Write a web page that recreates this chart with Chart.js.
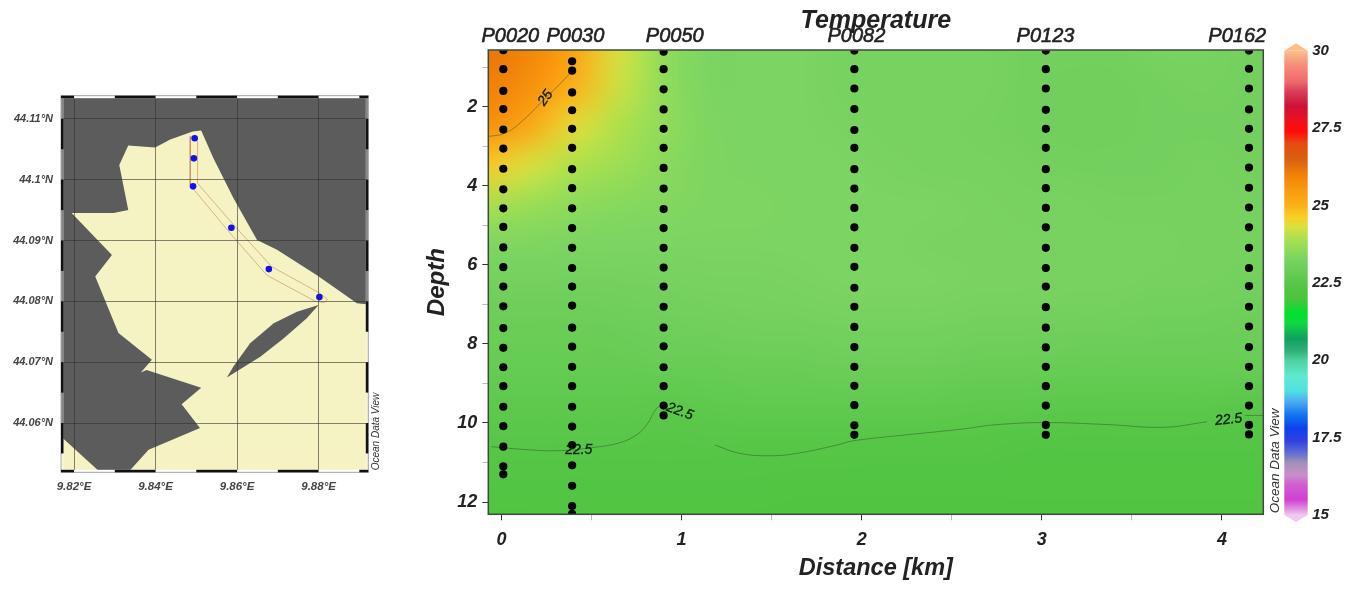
<!DOCTYPE html>
<html>
<head>
<meta charset="utf-8">
<title>Temperature section</title>
<script src="https://cdn.jsdelivr.net/npm/chart.js@4"></script>
<style>
    html, body { margin: 0; background: #fff; overflow: hidden; }
    .panel { position: absolute; top: 0; height: 589px; }
    .panel canvas { filter: blur(0.45px); }
</style>
</head>
<body>
<div class="panel" style="left:0;width:395px"><canvas id="mapChart" width="395" height="589"></canvas></div>
<div class="panel" style="left:400px;width:882px"><canvas id="sectionChart" width="882" height="589"></canvas></div>
<div class="panel" style="left:1270px;width:91px"><canvas id="barChart" width="91" height="589"></canvas></div>
<script>
// ---- map data (lon, lat) ----
const lonTicks = [9.82, 9.84, 9.86, 9.88];
const lonLabels = ['9.82°E', '9.84°E', '9.86°E', '9.88°E'];
const latTicks = [44.06, 44.07, 44.08, 44.09, 44.1, 44.11];
const latLabels = ['44.06°N', '44.07°N', '44.08°N', '44.09°N', '44.1°N', '44.11°N'];
const seaLon = [9.8491, 9.8512, 9.8542, 9.8591, 9.8649, 9.8698, 9.8796, 9.8894, 9.8923, 9.8923, 9.8333, 9.8383, 9.8509, 9.8464, 9.8512, 9.8378, 9.8364, 9.8391, 9.8309, 9.8252, 9.8293, 9.8194, 9.8297, 9.8333, 9.8311, 9.8333, 9.8399, 9.8436];
const seaLat = [44.1079, 44.1081, 44.1035, 44.0970, 44.0901, 44.0885, 44.0843, 44.0797, 44.0795, 44.0519, 44.0519, 44.0556, 44.0592, 44.0631, 44.0658, 44.0687, 44.0683, 44.0704, 44.0748, 44.0841, 44.0876, 44.0945, 44.0945, 44.0950, 44.1024, 44.1056, 44.1053, 44.1066];
const cornerLon = [9.8168, 9.8264, 9.8168];
const cornerLat = [44.0578, 44.0519, 44.0519];
const islandLon = [9.88, 9.8771, 9.8714, 9.8657, 9.8575, 9.8591, 9.8632, 9.8690, 9.8747];
const islandLat = [44.0794, 44.0772, 44.0739, 44.0709, 44.0675, 44.0693, 44.0731, 44.0764, 44.0783];
const trackLon = [9.8485, 9.8485, 9.8583, 9.8673, 9.8792, 9.8814, 9.8822, 9.8804, 9.8685, 9.8591, 9.8503, 9.8503, 9.8485];
const trackLat = [44.1071, 44.0991, 44.0912, 44.0843, 44.0800, 44.0798, 44.0803, 44.0813, 44.0857, 44.0926, 44.0994, 44.1063, 44.1071];
const stationLon = [9.8496, 9.8494, 9.8492, 9.8586, 9.8678, 9.8802];
const stationLat = [44.1068, 44.1035, 44.0989, 44.0921, 44.0853, 44.0807];
const frameLonBlack = [[9.8168, 9.82], [9.83, 9.84], [9.85, 9.86], [9.87, 9.88], [9.89, 9.8922]];
const frameLatBlack = [[44.11, 44.105], [44.10, 44.095], [44.09, 44.085], [44.08, 44.075], [44.07, 44.065], [44.06, 44.055]];

// ---- section data ----
const stationNames = ['P0020', 'P0030', 'P0050', 'P0082', 'P0123', 'P0162'];
const stationKm = [0.01, 0.392, 0.9, 1.959, 3.022, 4.15];
const stationLabelKm = [0.049, 0.41, 0.962, 1.97, 3.02, 4.085];
const depthsP0020 = [0.57, 1.05, 1.6, 2.06, 2.58, 3.06, 3.57, 4.09, 4.57, 5.04, 5.56, 6.06, 6.55, 7.05, 7.6, 8.1, 8.59, 9.07, 9.59, 10.08, 10.6, 11.1, 11.3];
const depthsP0030 = [0.85, 1.09, 1.64, 2.09, 2.56, 3.04, 3.58, 4.06, 4.57, 5.07, 5.57, 6.08, 6.55, 7.03, 7.59, 8.07, 8.58, 9.07, 9.59, 10.09, 10.56, 11.07, 11.59, 12.1, 12.3];
const depthsP0050 = [0.61, 1.05, 1.56, 2.07, 2.56, 3.04, 3.55, 4.07, 4.59, 5.07, 5.57, 6.07, 6.55, 7.06, 7.59, 8.06, 8.59, 9.07, 9.56, 9.81];
const depthsP0082 = [0.58, 1.05, 1.54, 2.06, 2.59, 3.04, 3.58, 4.07, 4.56, 5.05, 5.57, 6.05, 6.58, 7.06, 7.57, 8.08, 8.58, 9.06, 9.55, 10.06, 10.3];
const depthsP0123 = [0.58, 1.05, 1.54, 2.08, 2.56, 3.04, 3.58, 4.06, 4.56, 5.05, 5.57, 6.08, 6.55, 7.07, 7.59, 8.09, 8.58, 9.07, 9.56, 10.05, 10.3];
const depthsP0162 = [0.58, 1.04, 1.54, 2.07, 2.56, 3.04, 3.54, 4.05, 4.55, 5.05, 5.57, 6.08, 6.54, 7.06, 7.56, 8.08, 8.58, 9.07, 9.56, 10.05, 10.29];
const stationDepths = [depthsP0020, depthsP0030, depthsP0050, depthsP0082, depthsP0123, depthsP0162];

// temperature field, evenly spaced in both directions
const gridKm = [-0.1, 0.15, 0.4, 0.65, 0.9, 1.15, 1.4, 1.65, 1.9, 2.15, 2.4, 2.65, 2.9, 3.15, 3.4, 3.65, 3.9, 4.15, 4.4];
const gridDepth = [0.5, 1.5, 2.5, 3.5, 4.5, 5.5, 6.5, 7.5, 8.5, 9.5, 10.5, 11.5, 12.5];
const gridTemp = [
    [26.2, 25.9, 25.3, 24.3, 23.6, 23.3, 23.3, 23.3, 23.2, 23.2, 23.2, 23.2, 23.1, 23.1, 23.1, 23.2, 23.2, 23.1, 23.1],
    [26.0, 25.7, 25.0, 24.2, 23.6, 23.3, 23.3, 23.3, 23.2, 23.2, 23.2, 23.2, 23.1, 23.05, 23.05, 23.1, 23.15, 23.1, 23.1],
    [25.7, 25.2, 24.4, 23.95, 23.6, 23.35, 23.3, 23.3, 23.25, 23.2, 23.2, 23.15, 23.1, 23.05, 23.05, 23.1, 23.1, 23.1, 23.1],
    [24.7, 24.3, 23.95, 23.75, 23.5, 23.35, 23.3, 23.3, 23.3, 23.25, 23.2, 23.2, 23.15, 23.1, 23.1, 23.1, 23.15, 23.1, 23.1],
    [23.9, 23.7, 23.55, 23.45, 23.4, 23.35, 23.35, 23.3, 23.3, 23.3, 23.3, 23.25, 23.2, 23.2, 23.15, 23.15, 23.15, 23.15, 23.1],
    [23.35, 23.35, 23.3, 23.3, 23.3, 23.3, 23.3, 23.3, 23.3, 23.3, 23.25, 23.25, 23.25, 23.2, 23.2, 23.2, 23.15, 23.15, 23.1],
    [23.1, 23.1, 23.1, 23.1, 23.15, 23.2, 23.2, 23.25, 23.3, 23.3, 23.3, 23.25, 23.25, 23.2, 23.2, 23.15, 23.15, 23.1, 23.1],
    [22.9, 22.9, 22.9, 22.95, 23.0, 23.05, 23.1, 23.1, 23.15, 23.15, 23.15, 23.1, 23.1, 23.05, 23.05, 23.0, 23.0, 22.95, 22.95],
    [22.8, 22.8, 22.8, 22.8, 22.85, 22.85, 22.9, 22.9, 22.95, 22.95, 22.95, 22.9, 22.9, 22.85, 22.85, 22.85, 22.85, 22.85, 22.8],
    [22.65, 22.65, 22.65, 22.65, 22.6, 22.65, 22.7, 22.7, 22.7, 22.7, 22.7, 22.65, 22.65, 22.6, 22.6, 22.6, 22.6, 22.55, 22.55],
    [22.5, 22.5, 22.45, 22.5, 22.45, 22.5, 22.45, 22.45, 22.45, 22.4, 22.4, 22.4, 22.35, 22.35, 22.35, 22.35, 22.35, 22.35, 22.35],
    [22.3, 22.3, 22.3, 22.3, 22.3, 22.3, 22.3, 22.25, 22.25, 22.25, 22.25, 22.25, 22.25, 22.25, 22.25, 22.25, 22.25, 22.25, 22.25],
    [22.2, 22.2, 22.2, 22.2, 22.2, 22.2, 22.2, 22.2, 22.2, 22.2, 22.2, 22.2, 22.2, 22.2, 22.2, 22.2, 22.2, 22.2, 22.2]
];

// contour lines, each piece is km + depth
const contour25Km = [-0.08, 0.025, 0.13, 0.244, 0.33, 0.392];
const contour25Depth = [2.76, 2.66, 2.3, 1.78, 1.4, 1.09];
const contourAKm = [-0.056, 0.157, 0.324, 0.509, 0.657, 0.75, 0.806, 0.861, 0.895];
const contourADepth = [10.6, 10.68, 10.7, 10.62, 10.5, 10.3, 10.05, 9.63, 9.55];
const contourBKm = [1.185, 1.324, 1.49, 1.639, 1.861, 1.953, 2.25, 2.565, 2.731, 3.009, 3.361, 3.676, 3.917];
const contourBDepth = [10.56, 10.77, 10.83, 10.77, 10.56, 10.45, 10.3, 10.15, 10.05, 9.99, 10.04, 10.11, 9.97];
const contourCKm = [4.129, 4.23];
const contourCDepth = [9.81, 9.81];
const contourLabels = ['25', '22.5', '22.5', '22.5'];
const contourLabelKm = [0.244, 0.429, 0.99, 4.037];
const contourLabelDepth = [1.78, 10.68, 9.71, 9.92];
const contourLabelAngle = [-55, 0, 20, -6];

// ---- colour bar ----
const tempStops = [15, 15.2, 15.5, 16, 16.3, 16.7, 17, 17.4, 17.8, 18.2, 18.7, 19, 19.5, 20, 20.3, 20.7, 21.2, 21.5, 22, 22.5, 22.8, 23.1, 23.3, 23.6, 24, 24.3, 24.6, 25, 25.5, 26, 26.5, 27, 27.4, 27.7, 28.2, 28.7, 29, 29.5, 30];
const tempColors = ['#f0c8f0', '#e090e0', '#d040d0', '#d060d0', '#c890c8', '#a090b8', '#6070d0', '#3040e0', '#1040f0', '#1070f0', '#50b0f0', '#50e0e0', '#60e8d0', '#50d0a0', '#30b078', '#10a060', '#10d840', '#00e030', '#4cc43e', '#58c648', '#66cc54', '#74d05e', '#7cd462', '#90dc5a', '#b4e04a', '#d8e040', '#f8d028', '#fcb018', '#f89a10', '#f08008', '#d86010', '#e84a10', '#ff0a0a', '#f01018', '#d0103a', '#d8405a', '#ee6a70', '#f78a78', '#f9c08e'];
const barTicks = [15, 17.5, 20, 22.5, 25, 27.5, 30];

const labelFont = 'Liberation Sans';

function hexToRgb(h) {
    return [parseInt(h.substr(1, 2), 16), parseInt(h.substr(3, 2), 16), parseInt(h.substr(5, 2), 16)];
}

// look up a temperature in the colour bar
function tempColor(t) {
    let i = 0;
    while (i < tempStops.length - 2 && t > tempStops[i + 1]) i++;
    const f = Math.max(0, Math.min(1, (t - tempStops[i]) / (tempStops[i + 1] - tempStops[i])));
    const a = hexToRgb(tempColors[i]);
    const b = hexToRgb(tempColors[i + 1]);
    return [0, 1, 2].map(k => Math.round(a[k] + (b[k] - a[k]) * f));
}

function zipPoints(xs, ys) {
    return xs.map((x, i) => ({ x: x, y: ys[i] }));
}

function polygon(xs, ys, color) {
    const pts = zipPoints(xs, ys);
    pts.push(pts[0]);
    return { data: pts, showLine: true, fill: 'shape', backgroundColor: color, borderWidth: 0, pointRadius: 0 };
}

function fixedTicks(values) {
    return scale => { scale.ticks = values.map(v => ({ value: v })); };
}

function watermark(ctx, x, y, size) {
    ctx.save();
    ctx.translate(x, y);
    ctx.rotate(-Math.PI / 2);
    ctx.font = 'italic ' + size + 'px "' + labelFont + '"';
    ctx.fillStyle = '#333';
    ctx.textAlign = 'left';
    ctx.textBaseline = 'middle';
    ctx.fillText('Ocean Data View', 0, 0);
    ctx.restore();
}

// ---- map ----
const mapFrame = {
    id: 'mapFrame',
    afterDraw(chart) {
        const ctx = chart.ctx, a = chart.chartArea, sx = chart.scales.x, sy = chart.scales.y;
        ctx.save();
        ctx.fillStyle = '#fff';
        ctx.fillRect(a.left, a.top, a.width, 2.5);
        ctx.fillRect(a.left, a.bottom - 2.5, a.width, 2.5);
        ctx.fillStyle = 'rgba(255,255,255,0.25)';
        ctx.fillRect(a.left, a.top, 3, a.height);
        ctx.fillRect(a.right - 3, a.top, 3, a.height);
        ctx.strokeStyle = '#aaa';
        ctx.lineWidth = 1;
        ctx.strokeRect(a.left, a.top, a.width, a.height);
        ctx.fillStyle = '#111';
        frameLonBlack.forEach(r => {
            const x0 = sx.getPixelForValue(r[0]), x1 = sx.getPixelForValue(r[1]);
            ctx.fillRect(x0, a.top, x1 - x0, 2.5);
            ctx.fillRect(x0, a.bottom - 2.5, x1 - x0, 2.5);
        });
        frameLatBlack.forEach(r => {
            const y0 = sy.getPixelForValue(r[0]), y1 = sy.getPixelForValue(r[1]);
            ctx.fillRect(a.left, y0, 2.5, y1 - y0);
            ctx.fillRect(a.right - 2.5, y0, 2.5, y1 - y0);
        });
        ctx.restore();
        watermark(ctx, a.right + 8, a.bottom - 2, 10);
    }
};

new Chart(document.getElementById('mapChart'), {
    type: 'scatter',
    data: {
        datasets: [
            { data: zipPoints(stationLon, stationLat), pointRadius: 3.3, pointBackgroundColor: '#1010f0', pointBorderWidth: 0 },
            { data: zipPoints(trackLon, trackLat), showLine: true, borderColor: 'rgba(190,110,60,0.6)', borderWidth: 0.8, pointRadius: 0 },
            polygon(islandLon, islandLat, '#5c5c5c'),
            polygon(cornerLon, cornerLat, '#f5f2c4'),
            polygon(seaLon, seaLat, '#f5f2c4')
        ]
    },
    options: {
        responsive: false,
        animation: false,
        layout: { padding: { top: 95.7, right: 26.7, bottom: 89 } },
        plugins: {
            legend: { display: false },
            tooltip: { enabled: false },
            canvasBackground: { color: '#5c5c5c' }
        },
        scales: {
            x: {
                type: 'linear',
                min: 9.8168,
                max: 9.8922,
                afterBuildTicks: fixedTicks(lonTicks),
                afterFit: s => { s.height = 27.7; },
                grid: { z: 1, color: 'rgba(50,50,40,0.6)', lineWidth: 1, drawTicks: false },
                border: { display: false },
                ticks: {
                    padding: 8,
                    maxRotation: 0,
                    color: '#444',
                    font: { family: labelFont, size: 11.5, style: 'italic', weight: 'bold' },
                    callback: v => lonLabels[lonTicks.indexOf(v)]
                }
            },
            y: {
                min: 44.0519,
                max: 44.1138,
                afterBuildTicks: fixedTicks(latTicks),
                afterFit: s => { s.width = 61; },
                grid: { z: 1, color: 'rgba(50,50,40,0.6)', lineWidth: 1, drawTicks: false },
                border: { display: false },
                ticks: {
                    padding: 8,
                    color: '#444',
                    font: { family: labelFont, size: 11, style: 'italic', weight: 'bold' },
                    callback: v => latLabels[latTicks.indexOf(v)]
                }
            }
        }
    },
    plugins: [{
        id: 'canvasBackground',
        beforeDatasetsDraw(chart, args, opts) {
            const a = chart.chartArea;
            chart.ctx.fillStyle = opts.color;
            chart.ctx.fillRect(a.left, a.top, a.width, a.height);
        }
    }, mapFrame]
});

// ---- section ----
const temperatureField = {
    id: 'temperatureField',
    beforeDatasetsDraw(chart) {
        const ctx = chart.ctx, a = chart.chartArea, sx = chart.scales.x, sy = chart.scales.y;
        const cols = gridKm.length, rows = gridDepth.length;
        const off = document.createElement('canvas');
        off.width = cols;
        off.height = rows;
        const octx = off.getContext('2d');
        const img = octx.createImageData(cols, rows);
        gridTemp.forEach((row, j) => row.forEach((t, i) => {
            const c = tempColor(t), p = (j * cols + i) * 4;
            img.data[p] = c[0];
            img.data[p + 1] = c[1];
            img.data[p + 2] = c[2];
            img.data[p + 3] = 255;
        }));
        octx.putImageData(img, 0, 0);
        const x0 = sx.getPixelForValue(gridKm[0]), x1 = sx.getPixelForValue(gridKm[cols - 1]);
        const y0 = sy.getPixelForValue(gridDepth[0]), y1 = sy.getPixelForValue(gridDepth[rows - 1]);
        ctx.save();
        ctx.beginPath();
        ctx.rect(a.left, a.top, a.width, a.height);
        ctx.clip();
        ctx.imageSmoothingEnabled = true;
        ctx.imageSmoothingQuality = 'high';
        ctx.drawImage(off, 0.5, 0.5, cols - 1, rows - 1, x0, y0, x1 - x0, y1 - y0);
        ctx.restore();
    },
    afterDraw(chart) {
        const ctx = chart.ctx, a = chart.chartArea, sx = chart.scales.x, sy = chart.scales.y;
        ctx.save();
        // contour labels
        ctx.font = 'italic 14px "' + labelFont + '"';
        ctx.fillStyle = '#0c200c';
        ctx.strokeStyle = '#0c200c';
        ctx.lineWidth = 0.35;
        ctx.textAlign = 'center';
        ctx.textBaseline = 'middle';
        contourLabels.forEach((t, i) => {
            ctx.save();
            ctx.translate(sx.getPixelForValue(contourLabelKm[i]), sy.getPixelForValue(contourLabelDepth[i]));
            ctx.rotate(contourLabelAngle[i] * Math.PI / 180);
            ctx.fillText(t, 0, 0);
            ctx.strokeText(t, 0, 0);
            ctx.restore();
        });
        // station names above the plot, medium weight
        ctx.font = 'italic 20px "' + labelFont + '"';
        ctx.fillStyle = '#222';
        ctx.strokeStyle = '#222';
        ctx.lineWidth = 0.6;
        ctx.textBaseline = 'alphabetic';
        stationNames.forEach((t, i) => {
            const x = sx.getPixelForValue(stationLabelKm[i]);
            ctx.fillText(t, x, 42);
            ctx.strokeText(t, x, 42);
        });
        // plot frame
        ctx.strokeStyle = '#3c4a3c';
        ctx.lineWidth = 1.5;
        ctx.strokeRect(a.left, a.top, a.width, a.height);
        ctx.restore();
        watermark(ctx, a.right + 12, a.bottom - 1, 13.5);
    }
};

function contourLine(xs, ys) {
    return { data: zipPoints(xs, ys), showLine: true, tension: 0.4, borderColor: 'rgba(45,70,40,0.55)', borderWidth: 0.8, pointRadius: 0 };
}

const stationSets = stationNames.map((name, i) => ({
    label: name,
    data: stationDepths[i].map(d => ({ x: stationKm[i], y: d })),
    pointRadius: 4.1,
    pointBackgroundColor: '#050505',
    pointBorderWidth: 0
}));

const kmTicks = [0, 0.5, 1, 1.5, 2, 2.5, 3, 3.5, 4];
const depthTicks = [1, 2, 3, 4, 5, 6, 7, 8, 9, 10, 11, 12];

new Chart(document.getElementById('sectionChart'), {
    type: 'scatter',
    data: {
        datasets: stationSets.concat([
            contourLine(contour25Km, contour25Depth),
            contourLine(contourAKm, contourADepth),
            contourLine(contourBKm, contourBDepth),
            contourLine(contourCKm, contourCDepth)
        ])
    },
    options: {
        responsive: false,
        animation: false,
        layout: { padding: { right: 18.7 } },
        plugins: {
            legend: { display: false },
            tooltip: { enabled: false },
            title: {
                display: true,
                text: 'Temperature',
                fullSize: false,
                color: '#222',
                padding: { top: 9, bottom: 16 },
                font: { family: labelFont, size: 25, style: 'italic', weight: 'bold', lineHeight: 1 }
            }
        },
        scales: {
            x: {
                type: 'linear',
                min: -0.0733,
                max: 4.2294,
                afterBuildTicks: fixedTicks(kmTicks),
                afterFit: s => { s.height = 74.7; },
                grid: {
                    drawOnChartArea: false,
                    tickLength: 6,
                    color: c => (c.tick && Number.isInteger(c.tick.value) ? '#333' : '#bbb')
                },
                border: { display: false },
                title: {
                    display: true,
                    text: 'Distance [km]',
                    color: '#222',
                    padding: { top: 0, bottom: 8 },
                    font: { family: labelFont, size: 23.5, style: 'italic', weight: 'bold', lineHeight: 1.1 }
                },
                ticks: {
                    padding: 9,
                    maxRotation: 0,
                    autoSkip: false,
                    color: '#222',
                    font: { family: labelFont, size: 18, style: 'italic', weight: 'bold' },
                    callback: v => (Number.isInteger(v) ? String(v) : '')
                }
            },
            y: {
                reverse: true,
                min: 0.566,
                max: 12.31,
                afterBuildTicks: fixedTicks(depthTicks),
                afterFit: s => { s.width = 88.3; },
                grid: {
                    drawOnChartArea: false,
                    tickLength: 6,
                    color: c => (c.tick && c.tick.value % 2 === 0 ? '#333' : '#bbb')
                },
                border: { display: false },
                title: {
                    display: true,
                    text: 'Depth',
                    color: '#222',
                    padding: { top: 25, bottom: 0 },
                    font: { family: labelFont, size: 24, style: 'italic', weight: 'bold', lineHeight: 1 }
                },
                ticks: {
                    padding: 5,
                    autoSkip: false,
                    color: '#222',
                    font: { family: labelFont, size: 18, style: 'italic', weight: 'bold' },
                    callback: v => (v % 2 === 0 ? String(v) : '')
                }
            }
        }
    },
    plugins: [temperatureField]
});

// ---- colour bar ----
const barTips = {
    id: 'barTips',
    afterDatasetsDraw(chart) {
        const ctx = chart.ctx, a = chart.chartArea, sy = chart.scales.y;
        const mid = (a.left + a.right) / 2;
        const top = sy.getPixelForValue(30), bottom = sy.getPixelForValue(15);
        ctx.save();
        ctx.fillStyle = tempColors[tempColors.length - 1];
        ctx.beginPath();
        ctx.moveTo(a.left, top);
        ctx.lineTo(mid, top - 7.5);
        ctx.lineTo(a.right, top);
        ctx.fill();
        ctx.fillStyle = tempColors[0];
        ctx.beginPath();
        ctx.moveTo(a.left, bottom);
        ctx.lineTo(mid, bottom + 7);
        ctx.lineTo(a.right, bottom);
        ctx.fill();
        ctx.restore();
    }
};

function barGradient(c) {
    const a = c.chart.chartArea, sy = c.chart.scales.y;
    if (!a) return tempColors[0];
    const g = c.chart.ctx.createLinearGradient(0, sy.getPixelForValue(15), 0, sy.getPixelForValue(30));
    tempStops.forEach((t, i) => g.addColorStop((t - 15) / 15, tempColors[i]));
    return g;
}

new Chart(document.getElementById('barChart'), {
    type: 'bar',
    data: {
        labels: ['Temperature'],
        datasets: [{ data: [[15, 30]], backgroundColor: barGradient, barPercentage: 1, categoryPercentage: 1 }]
    },
    options: {
        responsive: false,
        animation: false,
        layout: { padding: { left: 14.3, top: 50.7, bottom: 74 } },
        plugins: { legend: { display: false }, tooltip: { enabled: false } },
        scales: {
            x: { display: false },
            y: {
                position: 'right',
                min: 15,
                max: 30,
                afterBuildTicks: fixedTicks(barTicks),
                afterFit: s => { s.width = 53.3; },
                grid: { display: false, drawTicks: false },
                border: { display: false },
                ticks: {
                    padding: 4.5,
                    color: '#222',
                    font: { family: labelFont, size: 15, style: 'italic', weight: 'bold' },
                    callback: v => String(v)
                }
            }
        }
    },
    plugins: [barTips]
});
</script>
</body>
</html>
